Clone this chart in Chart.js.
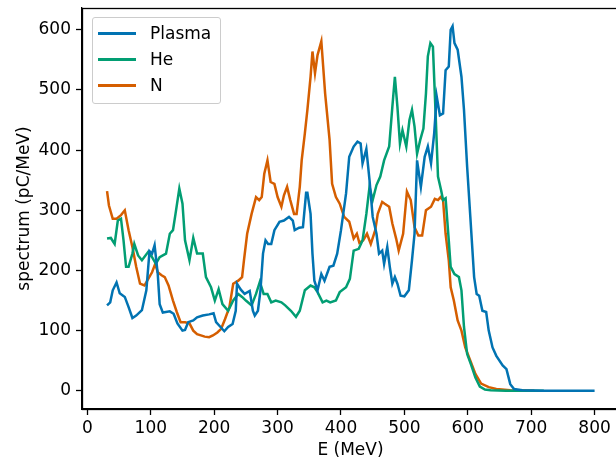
<!DOCTYPE html>
<html>
<head>
<meta charset="utf-8">
<script src="https://cdn.jsdelivr.net/npm/chart.js@4.4.0/dist/chart.umd.min.js"></script>
<style>
  html, body { margin: 0; padding: 0; background: #fff; overflow: hidden; }
  #wrap { position: relative; width: 625px; height: 462px; }
  #legend {
    position: absolute; left: 92px; top: 17px; width: 127px; height: 85px;
    border: 1px solid #cccccc; border-radius: 3px; background: rgba(255,255,255,0.8);
    font-family: 'DejaVu Sans', sans-serif; font-size: 17px; color: #000;
  }
  #legend .row { position: absolute; left: 0; height: 20px; line-height: 20px; width: 127px; }
  #legend .line { position: absolute; left: 5px; top: 9px; width: 38px; height: 2.5px; }
  #legend .lbl { position: absolute; left: 57px; top: 0; white-space: nowrap; }
</style>
</head>
<body>
<div id="wrap">
  <canvas id="spectrum" width="625" height="462"></canvas>
  <div id="legend"></div>
</div>
<script>
// energy (MeV) and spectrum (pC/MeV)
var plasmaE = [31,36,40,46,51,59,65,71,77,86,93,98,102,106,111,114,119,130,136,142,
  150,154,159,167,173,182,192,199,203,210,216,222,229,234,236,242,248,256,261,264,
  269,273,277,281,285,290,295,303,310,318,324,327,334,340,345,347,352,355,358,363,
  369,374,382,388,394,400,408,413,420,426,431,434,440,445,450,456,460,465,468,473,
  477,481,485,489,494,500,507,512,516,520,526,532,537,542,547,551,556,561,565,570,
  573,576,579,584,590,594,599,604,610,614,618,623,629,633,639,645,655,661,667,673,
  686,720,800];
var plasmaV = [142,147,167,180,162,156,139,121,125,134,167,232,228,242,194,144,130,132,128,112,
  100,101,114,117,122,125,127,129,114,106,99,106,111,133,178,168,161,166,133,125,
  133,167,228,250,244,244,267,281,283,289,283,267,271,272,329,329,294,228,183,167,
  194,183,206,208,228,267,328,389,406,414,411,378,402,350,289,261,228,233,211,239,
  206,178,189,178,158,157,167,217,261,383,339,389,406,378,428,489,458,461,533,539,
  600,606,578,567,522,467,372,289,189,161,158,133,131,100,72,58,42,36,11,3,
  1,0,0];

var heE = [31,37,43,48,53,57,61,65,71,74,80,86,96,102,108,114,124,130,135,139,
  145,150,154,161,167,173,182,187,195,201,207,213,222,230,238,244,250,259,266,272,
  278,284,290,297,306,312,321,329,335,343,352,358,363,371,377,383,392,398,408,414,
  420,428,434,440,445,450,456,462,468,476,481,485,489,493,497,503,508,512,516,520,
  525,530,534,537,541,545,549,553,558,561,565,570,573,579,586,590,594,599,605,612,
  619,627,636,660,720];
var heV = [253,254,244,283,286,250,206,206,228,244,225,217,231,222,211,222,228,261,267,294,
  336,311,250,217,254,228,228,189,172,150,169,144,133,150,161,156,150,142,161,181,
  161,161,147,150,147,142,133,123,133,167,175,172,164,147,150,147,150,164,172,186,
  233,236,250,294,339,317,342,356,383,406,472,522,472,411,433,406,450,467,439,394,
  417,436,494,556,578,572,467,356,333,317,320,250,206,194,189,167,106,61,44,22,
  7,2,1,0,0];

var nE = [31,34,40,46,53,59,65,71,77,83,90,96,102,107,111,117,122,128,135,141,
  147,154,161,167,173,179,185,192,198,205,211,217,224,230,238,244,247,252,259,266,
  271,275,279,284,289,295,300,306,310,315,320,326,330,335,338,343,347,352,355,359,
  363,369,375,382,386,392,398,405,413,420,425,429,435,441,447,454,458,465,469,476,
  481,487,491,498,504,510,516,522,528,534,542,548,553,557,561,565,570,573,578,584,
  590,596,604,612,621,633,645,667,705];
var nV = [332,308,286,286,292,300,267,239,206,178,175,186,197,211,197,192,189,175,150,131,
  114,114,112,100,94,92,90,89,92,97,103,119,139,178,183,189,217,261,294,322,
  317,322,361,383,347,344,322,306,325,339,317,294,294,339,383,428,467,522,564,528,
  558,581,494,417,344,322,311,289,281,253,261,246,250,261,244,267,294,314,311,306,
  278,253,233,261,331,317,272,258,258,300,306,319,317,322,317,261,217,172,150,117,
  100,72,50,28,12,6,3,1,0];

var seriesNames = ['Plasma', 'He', 'N'];
var seriesColors = ['#0173b2', '#029e73', '#d55e00'];
var xTicks = [0, 100, 200, 300, 400, 500, 600, 700, 800];
var yTicks = [0, 100, 200, 300, 400, 500, 600];

function toPoints(xs, ys) {
  var pts = [];
  for (var i = 0; i < xs.length; i++) pts.push({ x: xs[i], y: ys[i] });
  return pts;
}

var font = { family: 'DejaVu Sans', size: 17 };

// full box around the plot, like matplotlib spines
var framePlugin = {
  id: 'frame',
  afterDraw: function (chart) {
    var a = chart.chartArea, ctx = chart.ctx;
    ctx.save();
    ctx.strokeStyle = '#000';
    ctx.lineWidth = 1.3;
    ctx.strokeRect(Math.round(a.left) + 0.5, Math.round(a.top) + 0.5,
      Math.round(a.right - a.left), Math.round(a.bottom - a.top));
    ctx.restore();
  }
};

var chart = new Chart(document.getElementById('spectrum'), {
  type: 'line',
  data: {
    datasets: [
      { label: seriesNames[0], data: toPoints(plasmaE, plasmaV), borderColor: seriesColors[0] },
      { label: seriesNames[1], data: toPoints(heE, heV), borderColor: seriesColors[1] },
      { label: seriesNames[2], data: toPoints(nE, nV), borderColor: seriesColors[2] }
    ]
  },
  options: {
    responsive: false,
    animation: false,
    elements: {
      line: { borderWidth: 2.5, tension: 0, fill: false },
      point: { radius: 0 }
    },
    layout: { padding: { top: 8, right: 6, left: 0, bottom: 0 } },
    plugins: { legend: { display: false }, tooltip: { enabled: false } },
    scales: {
      x: {
        type: 'linear',
        min: -8.5,
        max: 838.5,
        afterBuildTicks: function (s) { s.ticks = xTicks.map(function (v) { return { value: v }; }); },
        afterFit: function (s) { s.height = 53; s.paddingLeft = 0; s.paddingRight = 0; },
        grid: { drawOnChartArea: false, color: '#000', tickLength: 6, tickWidth: 1.3 },
        border: { color: '#000', width: 1.3 },
        ticks: { color: '#000', font: font, padding: 3, maxRotation: 0 },
        title: { display: true, text: 'E (MeV)', color: '#000', font: font, padding: { top: 0, bottom: 1 } }
      },
      y: {
        min: -30.3,
        max: 636.3,
        afterBuildTicks: function (s) { s.ticks = yTicks.map(function (v) { return { value: v }; }); },
        afterFit: function (s) { s.width = 82; s.paddingTop = 0; s.paddingBottom = 0; },
        grid: { drawOnChartArea: false, color: '#000', tickLength: 6, tickWidth: 1.3 },
        border: { color: '#000', width: 1.3 },
        ticks: { color: '#000', font: font, padding: 5 },
        title: { display: true, text: 'spectrum (pC/MeV)', color: '#000', font: font, padding: { top: 14, bottom: 0 } }
      }
    }
  },
  plugins: [framePlugin]
});

// legend box drawn as html on top of the canvas
var legend = document.getElementById('legend');
chart.data.datasets.forEach(function (ds, i) {
  var row = document.createElement('div');
  row.className = 'row';
  row.style.top = (5 + i * 26) + 'px';
  var ln = document.createElement('span');
  ln.className = 'line';
  ln.style.background = ds.borderColor;
  var lb = document.createElement('span');
  lb.className = 'lbl';
  lb.textContent = ds.label;
  row.appendChild(ln);
  row.appendChild(lb);
  legend.appendChild(row);
});
</script>
</body>
</html>
